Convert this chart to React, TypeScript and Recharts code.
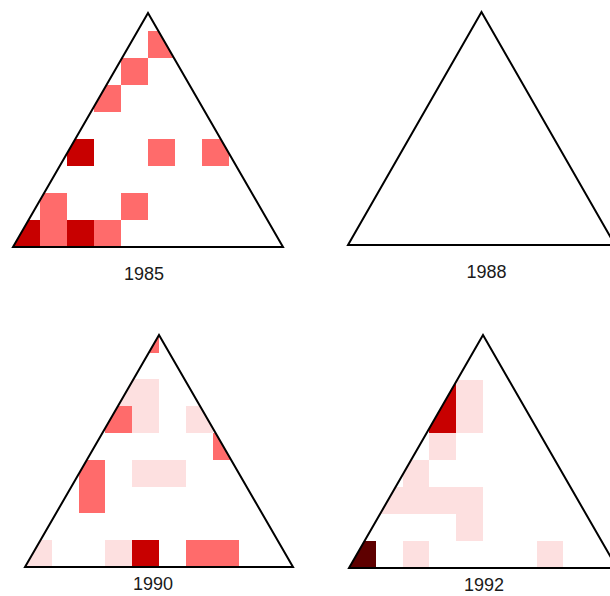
import React from 'react';
import { ComposedChart, XAxis, YAxis, ReferenceArea } from 'recharts';

// ---- data ----
const years = ['1985', '1988', '1990', '1992'];
const BIN = 0.1; // cell size in ternary x/y units
const H = Math.sqrt(3) / 2; // height of the unit triangle

// cells: [column, row, level]
const cells1985: number[][] = [
  [0, 0, 3], [1, 0, 2], [2, 0, 3], [3, 0, 2],
  [1, 1, 2], [4, 1, 2],
  [2, 3, 3], [5, 3, 2], [7, 3, 2],
  [3, 5, 2],
  [4, 6, 2],
  [5, 7, 2],
];
const cells1988: number[][] = [];
const cells1990: number[][] = [
  [0, 0, 1], [3, 0, 1], [4, 0, 3], [6, 0, 2], [7, 0, 2],
  [2, 2, 2],
  [2, 3, 2], [4, 3, 1], [5, 3, 1],
  [7, 4, 2],
  [3, 5, 2], [4, 5, 1], [6, 5, 1],
  [3, 6, 1], [4, 6, 1],
  [4, 8, 2],
];
const cells1992: number[][] = [
  [0, 0, 4], [2, 0, 1], [7, 0, 1],
  [4, 1, 1],
  [1, 2, 1], [2, 2, 1], [3, 2, 1], [4, 2, 1],
  [2, 3, 1],
  [3, 4, 1],
  [3, 5, 3], [4, 5, 1],
  [3, 6, 3], [4, 6, 1],
];
const cellsByYear = [cells1985, cells1988, cells1990, cells1992];

// ---- styles ----
const levelColors = ['#FDE0E0', '#FF6B6B', '#C80000', '#5E0000'];
const boxes = [
  { left: 13, top: 13, w: 270, h: 234, labelDx: -4, labelOffset: 20 },
  { left: 348, top: 12, w: 267, h: 233, labelDx: 5, labelOffset: 20 },
  { left: 25, top: 335, w: 268, h: 232, labelDx: -6, labelOffset: 10 },
  { left: 349, top: 335, w: 268, h: 233, labelDx: 1, labelOffset: 10 },
];
const PAD = 4;
const FONT = '"Liberation Sans", Arial, sans-serif';

function Panel({ year, cells, box }: { year: string; cells: number[][]; box: any }) {
  const clipId = `tri-clip-${year}`;
  return (
    <div style={{ position: 'absolute', left: box.left - PAD, top: box.top - PAD }}>
      <ComposedChart
        width={box.w + 2 * PAD}
        height={box.h + PAD + 40}
        margin={{ top: PAD, right: PAD, left: PAD, bottom: 0 }}
      >
        <XAxis
          type="number"
          dataKey="x"
          domain={[0, 1]}
          allowDataOverflow
          height={40}
          tick={false}
          tickLine={false}
          axisLine={false}
          label={{
            value: year,
            position: 'insideTop',
            offset: box.labelOffset,
            dx: box.labelDx,
            fill: '#1a1a1a',
            fontSize: 18,
            fontFamily: FONT,
          }}
        />
        <YAxis type="number" dataKey="y" domain={[0, H]} allowDataOverflow hide />
        {cells.map(([c, r, v], i) => (
          <ReferenceArea
            key={i}
            x1={c * BIN}
            x2={(c + 1) * BIN}
            y1={r * BIN}
            y2={(r + 1) * BIN}
            ifOverflow="visible"
            fill={levelColors[v - 1]}
            fillOpacity={1}
            stroke="none"
            shape={(p: any) => (
              <rect
                x={p.x}
                y={p.y}
                width={p.width}
                height={p.height}
                fill={levelColors[v - 1]}
                stroke="none"
                shapeRendering="crispEdges"
                clipPath={`url(#${clipId})`}
              />
            )}
          />
        ))}
        <ReferenceArea
          x1={0}
          x2={1}
          y1={0}
          y2={H}
          ifOverflow="visible"
          shape={(p: any) => {
            const pts = `${p.x},${p.y + p.height} ${p.x + p.width},${p.y + p.height} ${p.x + p.width / 2},${p.y}`;
            return (
              <g>
                <defs>
                  <clipPath id={clipId}>
                    <polygon points={pts} />
                  </clipPath>
                </defs>
                <polygon
                  points={pts}
                  fill="none"
                  stroke="#000"
                  strokeWidth={2}
                  strokeLinejoin="miter"
                />
              </g>
            );
          }}
        />
      </ComposedChart>
    </div>
  );
}

export default function App() {
  return (
    <div
      style={{
        position: 'absolute',
        left: 0,
        top: 0,
        width: 610,
        height: 596,
        overflow: 'hidden',
        background: '#fff',
      }}
    >
      {years.map((y, i) => (
        <Panel key={y} year={y} cells={cellsByYear[i]} box={boxes[i]} />
      ))}
    </div>
  );
}
